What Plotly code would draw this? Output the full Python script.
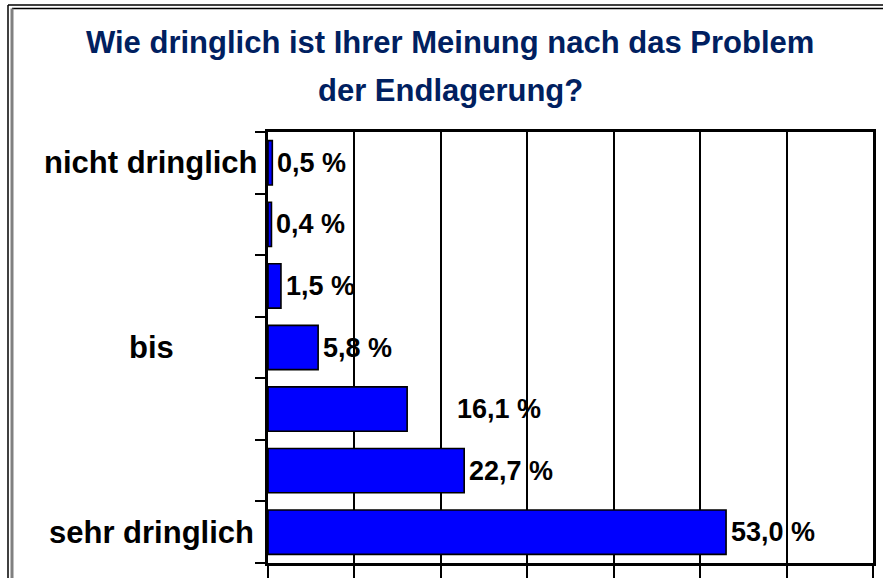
import plotly.graph_objects as go

# ---- data ----
levels = ["nicht dringlich", "", "", "bis", "", "", "sehr dringlich"]
values = [0.5, 0.4, 1.5, 5.8, 16.1, 22.7, 53.0]
title_lines = ["Wie dringlich ist Ihrer Meinung nach das Problem", "der Endlagerung?"]
x_ticks = [0, 10, 20, 30, 40, 50, 60, 70]

# ---- style ----
FONT = "Liberation Sans, Arial, sans-serif"
label_extra_shift = [0, 0, 0, 0, 45, 0, 0]
title_line_centers_px = [43, 90]

W, H = 883, 578
ML, MR, MT, MB = 268, 10, 132, 15
PW, PH = W - ML - MR, H - MT - MB

def px_x(x):
    return (x - ML) / PW

def px_y(y):
    return (H - MB - y) / PH

pos = list(range(len(values)))
labels = [f"{v:.1f}".replace(".", ",") + " %" for v in values]

fig = go.Figure()
fig.add_trace(go.Bar(
    x=values, y=pos, orientation="h", width=0.72,
    marker=dict(color="#0000FF", line=dict(color="black", width=1.6)),
    hoverinfo="skip",
))

annotations = []
for line, cy in zip(title_lines, title_line_centers_px):
    annotations.append(dict(
        x=px_x(450), y=px_y(cy), xref="paper", yref="paper", text=line,
        showarrow=False, xanchor="center", yanchor="middle",
        font=dict(family=FONT, size=31, color="#002060", weight="bold"),
    ))
for p, v, t, s in zip(pos, values, labels, label_extra_shift):
    annotations.append(dict(
        x=v, y=p, xref="x", yref="y", text=t, showarrow=False,
        xanchor="left", yanchor="middle", xshift=3 + s,
        font=dict(family=FONT, size=27, color="black", weight="bold"),
    ))
for p, lab in zip(pos, levels):
    if lab:
        annotations.append(dict(
            x=0, y=p, xref="paper", yref="y", text=lab, showarrow=False,
            xanchor="center", yanchor="middle", xshift=-117,
            font=dict(family=FONT, size=31, color="black", weight="bold"),
        ))

shapes = [
    dict(type="line", xref="paper", yref="paper", x0=px_x(8), x1=px_x(W + 5), y0=px_y(5), y1=px_y(5),
         line=dict(color="black", width=1.5)),
    dict(type="line", xref="paper", yref="paper", x0=px_x(8), x1=px_x(8), y0=px_y(5), y1=px_y(H + 5),
         line=dict(color="black", width=1.5)),
    dict(type="line", xref="paper", yref="paper", x0=px_x(12), x1=px_x(W + 5), y0=px_y(8.5), y1=px_y(8.5),
         line=dict(color="black", width=1.5)),
    dict(type="line", xref="paper", yref="paper", x0=px_x(12), x1=px_x(12), y0=px_y(8.5), y1=px_y(H + 5),
         line=dict(color="#808080", width=3)),
]

fig.update_layout(
    width=W, height=H,
    margin=dict(l=ML, r=MR, t=MT, b=MB, pad=0, autoexpand=False),
    paper_bgcolor="white", plot_bgcolor="white",
    showlegend=False,
    xaxis=dict(
        range=[0, 70], tickvals=x_ticks, showticklabels=False,
        ticks="outside", ticklen=20, tickwidth=2, tickcolor="black",
        showgrid=True, gridcolor="black", gridwidth=2,
        showline=True, linecolor="black", linewidth=2.5, mirror=True,
        zeroline=False, fixedrange=True, automargin=False,
    ),
    yaxis=dict(
        range=[len(values) - 0.5, -0.5],
        tickvals=[i - 0.5 for i in range(len(values) + 1)], showticklabels=False,
        ticks="outside", ticklen=10, tickwidth=2, tickcolor="black",
        showgrid=False, zeroline=False,
        showline=True, linecolor="black", linewidth=2.5, mirror=True,
        fixedrange=True, automargin=False,
    ),
    annotations=annotations,
    shapes=shapes,
)

fig.write_html(
    "out.html",
    config={"displayModeBar": False},
    post_script="document.body.style.margin='0';document.body.style.padding='0';",
)
